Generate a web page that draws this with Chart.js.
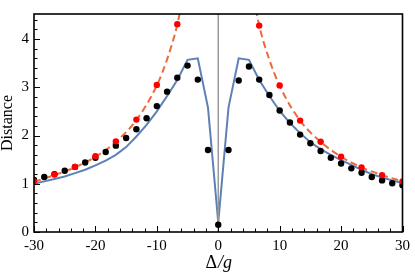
<!DOCTYPE html>
<html>
<head>
<meta charset="utf-8">
<script src="https://cdn.jsdelivr.net/npm/chart.js@4"></script>
<style>
  html, body { margin: 0; padding: 0; background: #fff; }
  #wrap { width: 415px; height: 275px; }
</style>
</head>
<body>
<div id="wrap"><canvas id="chart" width="415" height="275"></canvas></div>
<script>
// detuning values (Δ/g) shared by the blue curve and the black dots
const detuning = [-30, -28.33, -26.67, -25, -23.33, -21.67, -20, -18.33, -16.67, -15, -13.33, -11.67, -10, -8.33, -6.67, -5, -3.33, -1.67, 0,
  1.67, 3.33, 5, 6.67, 8.33, 10, 11.67, 13.33, 15, 16.67, 18.33, 20, 21.67, 23.33, 25, 26.67, 28.33, 30];
const blueLine = [1.00, 1.05, 1.10, 1.15, 1.22, 1.29, 1.38, 1.48, 1.60, 1.76, 1.98, 2.22, 2.50, 2.82, 3.15, 3.57, 3.60, 2.58, 0.20,
  2.58, 3.60, 3.57, 3.15, 2.82, 2.51, 2.26, 2.05, 1.86, 1.72, 1.60, 1.49, 1.39, 1.29, 1.20, 1.13, 1.07, 1.01];
const blackDots = [1.08, 1.14, 1.20, 1.27, 1.35, 1.44, 1.54, 1.66, 1.79, 1.95, 2.13, 2.36, 2.61, 2.91, 3.20, 3.45, 3.16, 1.70, 0.15,
  1.70, 3.14, 3.43, 3.16, 2.84, 2.52, 2.27, 2.02, 1.84, 1.68, 1.54, 1.42, 1.32, 1.23, 1.14, 1.07, 1.01, 0.97];

// red dots
const redX = [-30, -26.67, -23.33, -20, -16.67, -13.33, -10, -6.67, 6.67, 10, 13.33, 16.67, 20, 23.33, 26.67, 30];
const redY = [1.05, 1.19, 1.35, 1.57, 1.88, 2.33, 3.05, 4.31, 4.28, 3.04, 2.31, 1.87, 1.56, 1.34, 1.18, 1.05];

// dashed curve (two branches, run off the top)
const dashLeftX = [-30, -26.67, -23.33, -20, -16.67, -13.33, -10, -8.33, -6.67, -5.8];
const dashLeftY = [1.04, 1.18, 1.34, 1.56, 1.87, 2.32, 3.04, 3.58, 4.30, 4.85];
const dashRightX = [5.8, 6.67, 8.33, 10, 13.33, 16.67, 20, 23.33, 26.67, 30];
const dashRightY = [4.85, 4.28, 3.57, 3.03, 2.31, 1.87, 1.56, 1.34, 1.18, 1.05];

const xTicks = [-30, -20, -10, 0, 10, 20, 30];
const yTicks = [0, 1, 2, 3, 4];

const pts = (xs, ys) => xs.map((x, i) => ({ x: x, y: ys[i] }));
const serif = 'Liberation Serif, serif';

// frame, inward ticks and axis titles
const framePlugin = {
  id: 'frame',
  afterDraw(chart) {
    const ctx = chart.ctx;
    const { left, right, top, bottom } = chart.chartArea;
    const sx = chart.scales.x, sy = chart.scales.y;
    ctx.save();
    ctx.strokeStyle = '#000';
    ctx.lineWidth = 1;
    ctx.beginPath();
    for (let v = -30; v <= 30; v += 2) {
      const px = Math.round(sx.getPixelForValue(v)) + 0.5;
      const len = v % 10 === 0 ? 6 : 3.5;
      ctx.moveTo(px, bottom); ctx.lineTo(px, bottom - len);
    }
    for (let i = 0; i <= 22; i++) {
      const v = i * 0.2;
      const py = Math.round(sy.getPixelForValue(v)) + 0.5;
      const len = i % 5 === 0 ? 6 : 3.5;
      ctx.moveTo(left, py); ctx.lineTo(left + len, py);
    }
    ctx.stroke();
    ctx.lineWidth = 1.6;
    ctx.strokeRect(left, top, right - left, bottom - top);

    // x title: upright Δ, italic /g
    ctx.fillStyle = '#000';
    ctx.textBaseline = 'alphabetic';
    ctx.textAlign = 'left';
    const cx = (left + right) / 2;
    ctx.font = '18px ' + serif;
    const wD = ctx.measureText('Δ').width;
    ctx.font = 'italic 18px ' + serif;
    const wG = ctx.measureText('/g').width;
    const x0 = cx - (wD + wG) / 2;
    ctx.font = '18px ' + serif;
    ctx.fillText('Δ', x0, 268);
    ctx.font = 'italic 18px ' + serif;
    ctx.fillText('/g', x0 + wD + 1, 268);

    // y title
    ctx.translate(8, (top + bottom) / 2);
    ctx.rotate(-Math.PI / 2);
    ctx.textAlign = 'center';
    ctx.textBaseline = 'middle';
    ctx.font = '16px ' + serif;
    ctx.fillText('Distance', 0, 0);
    ctx.restore();
  }
};

new Chart(document.getElementById('chart'), {
  type: 'scatter',
  data: {
    datasets: [
      { data: pts(redX, redY), backgroundColor: '#ff0000', borderWidth: 0, pointRadius: 3.2, order: 0 },
      { data: pts(detuning, blackDots), backgroundColor: '#000', borderWidth: 0, pointRadius: 3.2, order: 1 },
      { data: pts(dashLeftX, dashLeftY), showLine: true, borderColor: '#ec6a3e', borderWidth: 2, borderDash: [7, 4],
        pointRadius: 0, cubicInterpolationMode: 'monotone', order: 2 },
      { data: pts(dashRightX, dashRightY), showLine: true, borderColor: '#ec6a3e', borderWidth: 2, borderDash: [7, 4],
        pointRadius: 0, cubicInterpolationMode: 'monotone', order: 2 },
      { data: [{ x: 0, y: 0 }, { x: 0, y: 4.52 }], showLine: true, borderColor: '#9a9a9a', borderWidth: 1.5, pointRadius: 0, order: 3 },
      { data: pts(detuning, blueLine), showLine: true, borderColor: '#5e81b5', borderWidth: 2, pointRadius: 0, tension: 0, order: 4 }
    ]
  },
  options: {
    responsive: false,
    animation: false,
    layout: { padding: { top: 1, right: 7, left: 0, bottom: 0 } },
    plugins: { legend: { display: false }, tooltip: { enabled: false } },
    scales: {
      x: {
        type: 'linear', min: -30, max: 30,
        afterBuildTicks: s => { s.ticks = xTicks.map(v => ({ value: v })); },
        afterFit: s => { s.height = 43; },
        grid: { display: false, drawTicks: false },
        border: { display: false },
        ticks: { color: '#000', padding: 5, font: { family: serif, size: 15 } }
      },
      y: {
        type: 'linear', min: 0, max: 4.52,
        afterBuildTicks: s => { s.ticks = yTicks.map(v => ({ value: v })); },
        afterFit: s => { s.width = 34; },
        grid: { display: false, drawTicks: false },
        border: { display: false },
        ticks: { color: '#000', padding: 5, font: { family: serif, size: 15 } }
      }
    }
  },
  plugins: [framePlugin]
});
</script>
</body>
</html>
